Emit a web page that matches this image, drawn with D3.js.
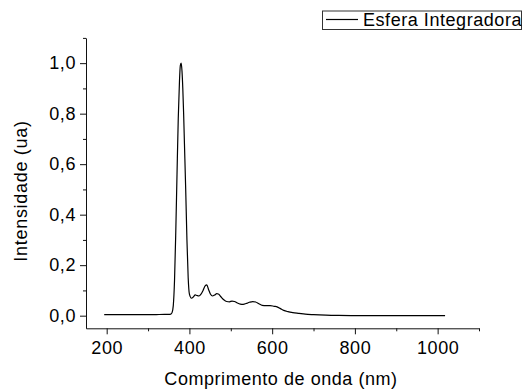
<!DOCTYPE html>
<html>
<head>
<meta charset="utf-8">
<script src="https://cdn.jsdelivr.net/npm/d3@7"></script>
<style>
  html, body { margin: 0; padding: 0; background: #fff; }
  svg { display: block; }
  text { font-family: "Liberation Sans", Arial, sans-serif; fill: #000; }
</style>
</head>
<body>
<svg id="chart" width="523" height="389"></svg>
<script>
// ---- Data ----
const wavelength = [194, 220, 250, 280, 300, 320, 340, 350, 355, 358, 361, 364, 367, 370, 373, 376, 378, 380, 382, 384, 386, 388, 391, 394, 397, 400, 405,
  410, 414, 418, 423, 428, 433, 438, 442, 446, 451, 456, 461, 466, 470, 476, 483, 490, 497, 503, 509, 516, 523, 530, 537, 545, 553, 560, 568, 576,
  585, 595, 605, 612, 620, 628, 638, 650, 665, 680, 700, 730, 760, 800, 900, 1018];
const intensity = [0.004, 0.004, 0.004, 0.004, 0.004, 0.0045, 0.005, 0.005, 0.006, 0.012, 0.04, 0.14, 0.33, 0.56, 0.78, 0.93, 0.99, 1.0, 0.97, 0.9, 0.8, 0.68, 0.50, 0.30, 0.15, 0.085, 0.069,
  0.075, 0.082, 0.080, 0.078, 0.085, 0.100, 0.118, 0.122, 0.105, 0.085, 0.078, 0.082, 0.087, 0.086, 0.075, 0.063, 0.056, 0.055, 0.058, 0.056, 0.050, 0.046, 0.045, 0.048, 0.053, 0.056, 0.054, 0.047, 0.041,
  0.040, 0.040, 0.037, 0.035, 0.028, 0.021, 0.016, 0.012, 0.009, 0.006, 0.004, 0.002, 0.001, 0.0005, 0.0, 0.0];
const seriesName = "Esfera Integradora";
const xMajorTicks = [200, 400, 600, 800, 1000];
const xMinorTicks = [300, 500, 700, 900, 1100];
const yMajorTicks = [0, 0.2, 0.4, 0.6, 0.8, 1.0];
const yMinorTicks = [0.1, 0.3, 0.5, 0.7, 0.9, 1.1];
const xTitle = "Comprimento de onda (nm)";
const yTitle = "Intensidade (ua)";

// ---- Layout ----
const svg = d3.select("#chart");
const x = d3.scaleLinear().domain([150, 1100]).range([86, 479]);
const y = d3.scaleLinear().domain([-0.05, 1.1]).range([328.3, 37.9]);
const fmt = d => d3.format(".1f")(d).replace(".", ",");
const FS = "18px", LS = "0.55px";

// x axis
const xAxis = svg.append("g").attr("transform", `translate(0,${y(-0.05)})`)
  .call(d3.axisBottom(x).tickValues(xMajorTicks).tickSize(6).tickSizeOuter(0).tickPadding(7).tickFormat(d3.format("d")));
svg.append("g").attr("transform", `translate(0,${y(-0.05)})`)
  .call(d3.axisBottom(x).tickValues(xMinorTicks).tickSize(3).tickSizeOuter(0).tickFormat(""))
  .select(".domain").remove();

// y axis
const yAxis = svg.append("g").attr("transform", `translate(${x(150)},0)`)
  .call(d3.axisLeft(y).tickValues(yMajorTicks).tickSize(6).tickSizeOuter(0).tickPadding(4).tickFormat(fmt));
svg.append("g").attr("transform", `translate(${x(150)},0)`)
  .call(d3.axisLeft(y).tickValues(yMinorTicks).tickSize(3).tickSizeOuter(0).tickFormat(""))
  .select(".domain").remove();

svg.selectAll(".domain, .tick line").attr("stroke", "#111").attr("stroke-width", 1);
svg.selectAll(".tick text").attr("font-size", FS).style("letter-spacing", LS)
  .attr("font-family", "Liberation Sans, Arial, sans-serif").attr("fill", "#000");

// axis titles
svg.append("text").attr("x", 281).attr("y", 385).attr("text-anchor", "middle")
  .attr("font-size", FS).style("letter-spacing", LS).text(xTitle);
svg.append("text").attr("transform", "translate(26.5,191) rotate(-90)").attr("text-anchor", "middle")
  .attr("font-size", FS).style("letter-spacing", "0.7px").text(yTitle);

// line
const data = wavelength.map((w, i) => ({ w, v: intensity[i] }));
svg.append("path").datum(data)
  .attr("fill", "none").attr("stroke", "#000").attr("stroke-width", 1.2).attr("stroke-linejoin", "round")
  .attr("d", d3.line().x(d => x(d.w)).y(d => y(d.v)).curve(d3.curveMonotoneX));

// legend
const lg = svg.append("g");
lg.append("rect").attr("x", 322.5).attr("y", 11).attr("width", 199).attr("height", 18.5)
  .attr("fill", "#fff").attr("stroke", "#333").attr("stroke-width", 1);
lg.append("line").attr("x1", 326).attr("x2", 358).attr("y1", 19.5).attr("y2", 19.5)
  .attr("stroke", "#000").attr("stroke-width", 1.2);
lg.append("text").attr("x", 363).attr("y", 25.7).attr("font-size", FS).style("letter-spacing", LS).text(seriesName);
</script>
</body>
</html>
